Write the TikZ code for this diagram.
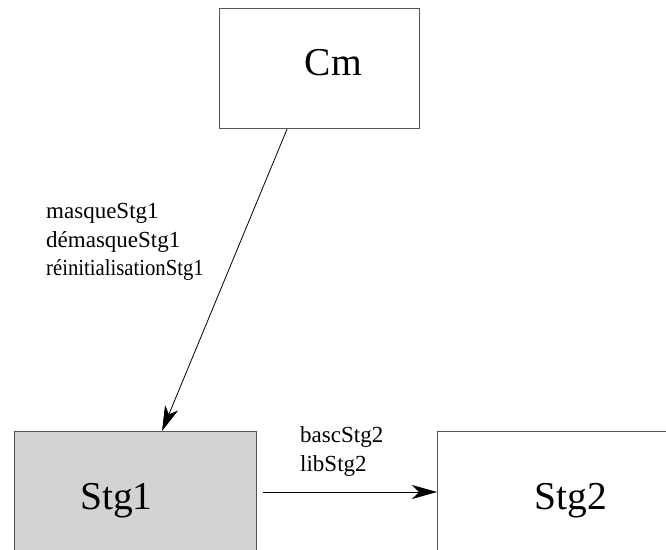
\documentclass[tikz,border=0pt]{standalone}
\usepackage{fontspec}
\setmainfont{Liberation Serif}
\usetikzlibrary{arrows.meta,calc}
\definecolor{boxgray}{RGB}{211,211,211}
\definecolor{edgegray}{RGB}{85,85,85}
\begin{document}
\begin{tikzpicture}[x=1pt,y=-1pt,
  box/.style={draw=edgegray, line width=1.2pt, inner sep=0pt, anchor=north west},
  lbl/.style={font=\fontsize{23}{28}\selectfont, anchor=base west, inner sep=0pt},
  big/.style={font=\fontsize{39.5}{44}\selectfont, anchor=base, inner sep=0pt},
  arr/.style={-{Stealth[length=25pt,width=14pt,inset=7pt]}, line width=0.8pt}]
\useasboundingbox (0,0) rectangle (666,549);
\node[box, minimum width=200pt, minimum height=120pt] (cm) at (219,8) {};
\node[box, fill=boxgray, minimum width=242.5pt, minimum height=140pt] (stg1) at (13.5,431) {};
\node[box, minimum width=260pt, minimum height=140pt] (stg2) at (437,431) {};
\node[big] (cmt) at (333.5,75) {Cm};
\node[big] (stg1t) at (116.5,509) {Stg1};
\node[big] (stg2t) at (571,509) {Stg2};
\node[lbl] (l1) at (46,218) {masqueStg1};
\node[lbl] (l2) at (46,247) {démasqueStg1};
\node[lbl, xscale=0.9] (l3) at (46,275) {réinitialisationStg1};
\node[lbl] (l4) at (300,442) {bascStg2};
\node[lbl] (l5) at (300,471) {libStg2};
\draw[arr] ($(cm.south west)+(68,0)$) -- ($(stg1.north west)+(148.5,0)$);
\draw[arr] ($(stg1.north east)+(6,61)$) -- ($(stg2.north west)+(0,61)$);
\end{tikzpicture}
\end{document}
